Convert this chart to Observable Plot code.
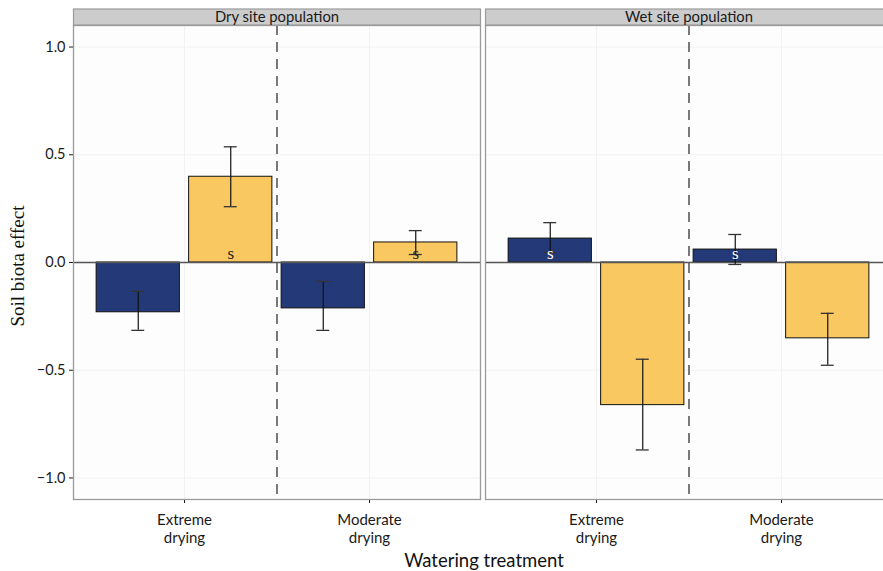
<!DOCTYPE html>
<html><head><meta charset="utf-8">
<script src="https://cdn.jsdelivr.net/npm/d3@7"></script>
<script src="https://cdn.jsdelivr.net/npm/@observablehq/plot@0.6"></script>
<style>
html,body{margin:0;padding:0;background:#fff;overflow:hidden;}
#chart{width:883px;height:571px;overflow:hidden;position:relative;}
#chart svg{max-width:none !important;}
</style></head><body><div id="chart"></div>
<script>
// ---- data ----
const populations = ["Dry site population", "Wet site population"];
const treatments = ["Extreme drying", "Moderate drying"];
const soilGroups = ["Group A", "Group B"]; // dark blue, yellow
const groupColors = ["#243a78", "#f9c860"];
// order within each population: Extreme/A, Extreme/B, Moderate/A, Moderate/B
const dryMeans = [-0.231, 0.398, -0.213, 0.093];
const dryLower = [-0.315, 0.259, -0.315, 0.037];
const dryUpper = [-0.134, 0.537, -0.088, 0.148];
const drySig   = ["", "s", "", "s"];
const wetMeans = [0.111, -0.662, 0.060, -0.352];
const wetLower = [0.046, -0.870, -0.009, -0.477];
const wetUpper = [0.185, -0.449, 0.130, -0.236];
const wetSig   = ["s", "", "s", ""];
const yTicks = [-1, -0.5, 0, 0.5, 1];

// ---- build table ----
const rows = [];
[[dryMeans, dryLower, dryUpper, drySig], [wetMeans, wetLower, wetUpper, wetSig]].forEach((arr, p) => {
  const [m, lo, hi, sg] = arr;
  for (let t = 0; t < 2; t++) for (let g = 0; g < 2; g++) {
    const k = t * 2 + g;
    rows.push({population: populations[p], treatment: treatments[t], tIndex: t + 1, gIndex: g,
      group: soilGroups[g], mean: m[k], lower: lo[k], upper: hi[k], sig: sg[k]});
  }
});
const dodge = 0.25, barHalf = 0.225, capHalf = 0.035, sigY = 0.04;
const xc = d => d.tIndex + (d.gIndex === 0 ? -dodge : dodge);

const plot = Plot.plot({
  width: 893, height: 571,
  marginLeft: 72, marginRight: 0, marginTop: 25, marginBottom: 72,
  style: {fontFamily: "Lato", fontSize: "14.5px", color: "#1a1a1a", background: "transparent", maxWidth: "none"},
  fx: {domain: populations, axis: "top", label: null, tickSize: 0, tickPadding: 4, paddingInner: 0.0121, paddingOuter: 0},
  x: {type: "linear", domain: [0.4, 2.6], ticks: [1, 2], tickFormat: i => treatments[i - 1].replace(" ", "\n"), tickSize: 4, tickPadding: 11, label: null},
  y: {domain: [-1.1, 1.1], ticks: yTicks, tickFormat: d3.format(".1f"), tickSize: 4, tickPadding: 4, label: null},
  color: {domain: soilGroups, range: groupColors},
  marks: [
    Plot.frame({fill: "#fdfdfd", stroke: null}),
    Plot.gridY(yTicks, {stroke: "#f2f2f2", strokeOpacity: 1}),
    Plot.gridX([1, 2], {stroke: "#f2f2f2", strokeOpacity: 1}),
    Plot.ruleX([1.5], {stroke: "#333", strokeWidth: 1.3, strokeDasharray: "10,7"}),
    Plot.rect(rows, {fx: "population", x1: d => xc(d) - barHalf, x2: d => xc(d) + barHalf, y1: 0, y2: "mean", fill: "group", stroke: "#111", strokeWidth: 1}),
    Plot.ruleY([0], {stroke: "#555", strokeWidth: 1.4}),
    Plot.ruleX(rows, {fx: "population", x: xc, y1: "lower", y2: "upper", stroke: "#111", strokeWidth: 1.2}),
    Plot.ruleY(rows, {fx: "population", y: "lower", x1: d => xc(d) - capHalf, x2: d => xc(d) + capHalf, stroke: "#333", strokeWidth: 1.3}),
    Plot.ruleY(rows, {fx: "population", y: "upper", x1: d => xc(d) - capHalf, x2: d => xc(d) + capHalf, stroke: "#333", strokeWidth: 1.3}),
    Plot.text(rows.filter(d => d.sig), {fx: "population", x: xc, y: () => sigY, text: "sig", fill: d => d.gIndex === 0 ? "#ffffff" : "#222", fontFamily: "Liberation Serif", fontSize: 17}),
    Plot.frame({stroke: "#9a9a9a", strokeWidth: 1.3})
  ]
});
const host = document.getElementById("chart");
host.appendChild(plot);
const svgNode = plot.tagName.toLowerCase() === "svg" ? plot : plot.querySelector("svg");
svgNode.style.maxWidth = "none";
const svg = d3.select(svgNode);
const sb = svgNode.getBoundingClientRect();
// strips above each facet frame
const frames = svg.selectAll('g[aria-label="frame"]').nodes();
const lastFrame = frames[frames.length - 1];
const stripG = svg.append("g").attr("aria-label", "strips");
d3.select(lastFrame).selectAll("rect").each(function() {
  const r = this.getBoundingClientRect();
  stripG.append("rect").attr("x", r.left - sb.left).attr("y", 9).attr("width", r.width).attr("height", 16)
    .attr("fill", "#cccccc").attr("stroke", "#9a9a9a").attr("stroke-width", 1.2);
});
// bring fx labels to front, slightly larger
svg.selectAll('g[aria-label^="fx-axis"]').each(function() { svgNode.appendChild(this); })
  .attr("font-size", 14.8);
// x tick labels: wider line spacing and size (per text element)
svg.selectAll('g[aria-label="x-axis tick label"]').attr("font-size", 15);
svg.selectAll('g[aria-label="x-axis tick label"] text').each(function() {
  d3.select(this).selectAll("tspan").each(function(d, i) { if (i > 0) d3.select(this).attr("dy", "1.2em"); });
});
// axis titles
svg.append("text").attr("transform", "translate(24,266) rotate(-90)").attr("text-anchor", "middle")
  .attr("font-family", "Liberation Serif").attr("font-size", 19).attr("fill", "#111").text("Soil biota effect");
svg.append("text").attr("x", 484).attr("y", 567).attr("text-anchor", "middle")
  .attr("font-family", "Lato").attr("font-size", 18.5).attr("fill", "#111").text("Watering treatment");
</script></body></html>
